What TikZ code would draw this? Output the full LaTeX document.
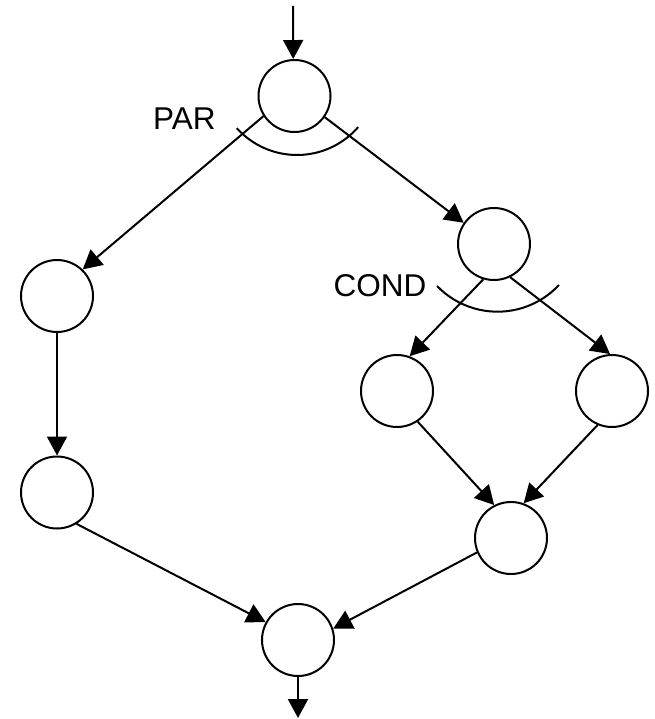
\documentclass[tikz,border=0pt]{standalone}
\usepackage{fontspec}
\setmainfont{Liberation Sans}
\usetikzlibrary{arrows.meta}
\begin{document}
\begin{tikzpicture}[x=1pt,y=-1pt,
  state/.style={circle,draw,line width=2pt,minimum size=72pt,inner sep=0pt},
  flow/.style={line width=2pt,-{Triangle[length=19pt,width=20pt]}},
  lbl/.style={font=\fontsize{31.5}{36}\selectfont,inner sep=0pt},
  arcline/.style={line width=2pt}]
\useasboundingbox (0,0) rectangle (654,719);
\node[state] (n1) at (294.5,96) {};
\node[state] (n2) at (494,244) {};
\node[state] (n3) at (57,296) {};
\node[state] (n4) at (57,492.5) {};
\node[state] (n5) at (397,391) {};
\node[state] (n6) at (612,391) {};
\node[state] (n7) at (511,538) {};
\node[state] (n8) at (298,640) {};
\coordinate (top) at (293,6);
\coordinate (bot) at (298,718);
\node[lbl] (par) at (184.3,119) {PAR};
\node[lbl] (cond) at (380,286) {COND};
\draw[flow] (top) -- (n1.92);
\draw[flow] (n1.213.5) -- (n3.46);
\draw[flow] (n1.325) -- (n2.145.6);
\draw[flow] (n2.253.5) -- (n5.70.6);
\draw[flow] (n2.296) -- (n6.93);
\draw[flow] (n3.south) -- (n4.north);
\draw[flow] (n5.304) -- (n7.117.8);
\draw[flow] (n6.247) -- (n7.70.5);
\draw[flow] (n4.302.5) -- (n8.151.3);
\draw[flow] (n7.203) -- (n8.18);
\draw[flow] (n8.south) -- (bot);
% PAR arc
\draw[arcline] (297,74) ++(-138:81 and -81) arc[start angle=-138,end angle=-41,x radius=81,y radius=-81];
% COND arc
\draw[arcline] (497.5,227.7) ++(-136:84 and -84) arc[start angle=-136,end angle=-43,x radius=84,y radius=-84];
\end{tikzpicture}
\end{document}
